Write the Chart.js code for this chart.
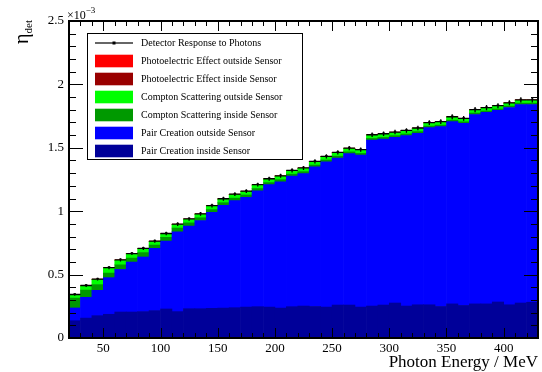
<!DOCTYPE html>
<html>
<head>
<meta charset="utf-8">
<script src="https://cdn.jsdelivr.net/npm/chart.js@4.4.1/dist/chart.umd.min.js"></script>
<style>
  body { margin: 0; background: #fff; }
  #wrap { width: 542px; height: 372px; }
</style>
</head>
<body>
<div id="wrap"><canvas id="myChart" width="542" height="372"></canvas></div>
<script>
// photon energy bins (MeV), 10 MeV wide
const binCentres = [25, 35, 45, 55, 65, 75, 85, 95, 105, 115, 125, 135, 145, 155, 165, 175, 185, 195, 205, 215,
  225, 235, 245, 255, 265, 275, 285, 295, 305, 315, 325, 335, 345, 355, 365, 375, 385, 395, 405, 415, 425];
const binWidth = 10;

// all values in units of 10^-3
const pairInside = [0.136, 0.157, 0.176, 0.187, 0.205, 0.205, 0.208, 0.216, 0.229, 0.208, 0.231, 0.231, 0.234, 0.236,
  0.239, 0.244, 0.247, 0.244, 0.236, 0.247, 0.252, 0.249, 0.244, 0.260, 0.260, 0.244, 0.252, 0.260, 0.276, 0.252,
  0.262, 0.262, 0.249, 0.269, 0.257, 0.269, 0.269, 0.284, 0.262, 0.276, 0.282];
const pairOutside = [0.101, 0.164, 0.200, 0.289, 0.336, 0.394, 0.431, 0.491, 0.535, 0.629, 0.652, 0.695, 0.757, 0.811,
  0.844, 0.866, 0.914, 0.965, 0.996, 1.029, 1.044, 1.100, 1.145, 1.159, 1.194, 1.198, 1.308, 1.309, 1.307, 1.344,
  1.353, 1.397, 1.418, 1.437, 1.436, 1.493, 1.510, 1.511, 1.556, 1.565, 1.559];
const comptonInside = [0.078, 0.057, 0.045, 0.036, 0.036, 0.031, 0.035, 0.026, 0.030, 0.030, 0.025, 0.022, 0.022, 0.020,
  0.020, 0.018, 0.018, 0.017, 0.017, 0.016, 0.016, 0.015, 0.015, 0.015, 0.014, 0.014, 0.014, 0.013, 0.013, 0.013,
  0.013, 0.012, 0.012, 0.012, 0.012, 0.012, 0.011, 0.011, 0.011, 0.011, 0.011];
const comptonOutside = [0.025, 0.033, 0.040, 0.040, 0.036, 0.033, 0.030, 0.028, 0.027, 0.028, 0.028, 0.028, 0.028, 0.028,
  0.028, 0.027, 0.027, 0.027, 0.027, 0.027, 0.026, 0.026, 0.026, 0.026, 0.026, 0.026, 0.026, 0.025, 0.025, 0.025,
  0.025, 0.025, 0.024, 0.024, 0.024, 0.024, 0.024, 0.023, 0.023, 0.023, 0.023];
const photoInside = [0.001, 0.001, 0.001, 0.001, 0.001, 0.001, 0.001, 0.001, 0.001, 0.001, 0.001, 0.001, 0.001, 0.001,
  0.001, 0.001, 0.001, 0.001, 0.001, 0.001, 0.001, 0.001, 0.001, 0.001, 0.001, 0.001, 0.001, 0.001, 0.001, 0.001,
  0.001, 0.001, 0.001, 0.001, 0.001, 0.001, 0.001, 0.001, 0.001, 0.001, 0.001];
const photoOutside = [0.002, 0.002, 0.002, 0.002, 0.002, 0.002, 0.002, 0.002, 0.002, 0.002, 0.002, 0.002, 0.002, 0.002,
  0.002, 0.002, 0.002, 0.002, 0.002, 0.002, 0.002, 0.002, 0.002, 0.002, 0.002, 0.002, 0.002, 0.002, 0.002, 0.002,
  0.002, 0.002, 0.002, 0.002, 0.002, 0.002, 0.002, 0.002, 0.002, 0.002, 0.002];
const response = [0.343, 0.414, 0.464, 0.555, 0.616, 0.666, 0.707, 0.764, 0.824, 0.898, 0.939, 0.979, 1.044, 1.098,
  1.134, 1.158, 1.209, 1.256, 1.279, 1.322, 1.341, 1.393, 1.433, 1.464, 1.498, 1.485, 1.603, 1.611, 1.624, 1.637,
  1.656, 1.699, 1.706, 1.745, 1.732, 1.801, 1.817, 1.832, 1.855, 1.878, 1.878];
const responseErr = [0.010, 0.011, 0.011, 0.012, 0.012, 0.012, 0.013, 0.013, 0.013, 0.014, 0.014, 0.014, 0.014, 0.015,
  0.015, 0.015, 0.015, 0.016, 0.016, 0.016, 0.016, 0.016, 0.017, 0.017, 0.017, 0.017, 0.018, 0.018, 0.018, 0.018,
  0.018, 0.019, 0.019, 0.019, 0.019, 0.020, 0.020, 0.020, 0.020, 0.020, 0.020];

const xTicks = [50, 100, 150, 200, 250, 300, 350, 400];
const yTicks = [0, 0.5, 1, 1.5, 2, 2.5];

//----------- helpers
function pts(vals) {
  return binCentres.map((c, i) => ({ x: c, y: vals[i] }));
}
function bars(label, vals, color) {
  return {
    type: "bar",
    label: label,
    data: pts(vals),
    backgroundColor: color,
    borderWidth: 0,
    barPercentage: 1,
    categoryPercentage: 1,
    stack: "mc",
  };
}

Chart.defaults.font.family = "'Liberation Serif', 'DejaVu Serif', serif";
Chart.defaults.color = "#000";

//----------- ROOT style frame, ticks and titles
const rootFrame = {
  id: "rootFrame",
  afterDatasetsDraw(chart) {
    const { ctx, scales } = chart;
    const x = scales.x, y = scales.y;
    const resp = chart.data.datasets[6];
    // detector response: bin-wide bars and error bars
    ctx.save();
    ctx.strokeStyle = "#000";
    ctx.lineWidth = 1.3;
    resp.data.forEach((p, i) => {
      const xl = x.getPixelForValue(p.x - binWidth / 2);
      const xh = x.getPixelForValue(p.x + binWidth / 2);
      const xc = x.getPixelForValue(p.x);
      const yc = y.getPixelForValue(p.y);
      ctx.beginPath();
      ctx.moveTo(xl, yc);
      ctx.lineTo(xh, yc);
      ctx.moveTo(xc, y.getPixelForValue(p.y - responseErr[i]));
      ctx.lineTo(xc, y.getPixelForValue(p.y + responseErr[i]));
      ctx.stroke();
    });
    ctx.restore();
  },
  afterDraw(chart) {
    const { ctx, chartArea: a, scales } = chart;
    const x = scales.x, y = scales.y;
    ctx.save();
    ctx.strokeStyle = "#000";
    ctx.lineWidth = 1;
    ctx.beginPath();
    for (let v = 20; v <= 430; v += 10) {
      const px = Math.round(x.getPixelForValue(v)) + 0.5;
      const len = v % 50 === 0 ? 10 : 5;
      ctx.moveTo(px, a.bottom);
      ctx.lineTo(px, a.bottom - len);
      ctx.moveTo(px, a.top);
      ctx.lineTo(px, a.top + len);
    }
    for (let k = 0; k <= 25; k++) {
      const py = Math.round(y.getPixelForValue(k / 10)) + 0.5;
      const len = k % 5 === 0 ? 14 : 7;
      ctx.moveTo(a.left, py);
      ctx.lineTo(a.left + len, py);
      ctx.moveTo(a.right, py);
      ctx.lineTo(a.right - len, py);
    }
    ctx.stroke();
    ctx.lineWidth = 2;
    ctx.strokeRect(a.left, a.top, a.right - a.left, a.bottom - a.top);

    // axis titles
    ctx.fillStyle = "#000";
    ctx.textBaseline = "alphabetic";
    ctx.font = "17px 'Liberation Serif'";
    ctx.textAlign = "right";
    ctx.fillText("Photon Energy / MeV", a.right, 367);

    ctx.textAlign = "left";
    ctx.font = "12px 'Liberation Serif'";
    ctx.fillText("\u00d710", a.left - 2, 19);
    const w = ctx.measureText("\u00d710").width;
    ctx.font = "9px 'Liberation Serif'";
    ctx.fillText("\u22123", a.left - 2 + w, 13);

    ctx.save();
    ctx.translate(28, 20);
    ctx.rotate(-Math.PI / 2);
    ctx.textAlign = "right";
    ctx.font = "11px 'Liberation Serif'";
    const dw = ctx.measureText("det").width;
    ctx.fillText("det", 0, 4);
    ctx.font = "20px 'Liberation Serif'";
    ctx.fillText("\u03b7", -dw, 0);
    ctx.restore();

    // legend
    const lx = 87.5, ly = 33.5, lw = 215, lh = 126;
    ctx.fillStyle = "#fff";
    ctx.fillRect(lx, ly, lw, lh);
    ctx.lineWidth = 1;
    ctx.strokeRect(lx, ly, lw, lh);
    const order = [6, 5, 4, 3, 2, 1, 0];
    ctx.font = "10px 'Liberation Serif'";
    ctx.textBaseline = "middle";
    order.forEach((di, k) => {
      const ds = chart.data.datasets[di];
      const ry = 43 + k * 18;
      if (di === 6) {
        ctx.strokeStyle = "#333";
        ctx.lineWidth = 1.5;
        ctx.beginPath();
        ctx.moveTo(95, ry);
        ctx.lineTo(133, ry);
        ctx.stroke();
        ctx.fillStyle = "#000";
        ctx.fillRect(112.5, ry - 1.5, 3, 3);
      } else {
        ctx.fillStyle = ds.backgroundColor;
        ctx.fillRect(95, ry - 6.3, 38, 12.6);
      }
      ctx.fillStyle = "#000";
      ctx.fillText(ds.label, 141, ry + 0.5);
    });
    ctx.restore();
  },
};

const ctx = document.getElementById("myChart");
new Chart(ctx, {
  data: {
    datasets: [
      bars("Pair Creation inside Sensor", pairInside, "#000099"),
      bars("Pair Creation outside Sensor", pairOutside, "#0000ff"),
      bars("Compton Scattering inside Sensor", comptonInside, "#009900"),
      bars("Compton Scattering outside Sensor", comptonOutside, "#00ff00"),
      bars("Photoelectric Effect inside Sensor", photoInside, "#990000"),
      bars("Photoelectric Effect outside Sensor", photoOutside, "#ff0000"),
      {
        type: "line",
        label: "Detector Response to Photons",
        data: pts(response),
        showLine: false,
        pointStyle: "rect",
        pointRadius: 1.8,
        pointBackgroundColor: "#000",
        pointBorderWidth: 0,
        stack: "resp",
      },
    ],
  },
  options: {
    responsive: false,
    animation: false,
    devicePixelRatio: 1,
    layout: { padding: { top: 21, right: 2, left: 0, bottom: 0 } },
    plugins: { legend: { display: false }, tooltip: { enabled: false } },
    scales: {
      x: {
        type: "linear",
        min: 20,
        max: 430,
        offset: false,
        stacked: true,
        grid: { display: false, drawTicks: false, offset: false },
        border: { display: false },
        afterBuildTicks: (s) => { s.ticks = xTicks.map((v) => ({ value: v })); },
        afterFit: (s) => { s.height = 34; },
        ticks: { font: { size: 13 }, padding: 3, maxRotation: 0 },
      },
      y: {
        type: "linear",
        min: 0,
        max: 2.5,
        stacked: true,
        grid: { display: false, drawTicks: false },
        border: { display: false },
        afterBuildTicks: (s) => { s.ticks = yTicks.map((v) => ({ value: v })); },
        afterFit: (s) => { s.width = 69; },
        ticks: { font: { size: 13 }, padding: 5, callback: (v) => String(v) },
      },
    },
  },
  plugins: [rootFrame],
});
</script>
</body>
</html>
